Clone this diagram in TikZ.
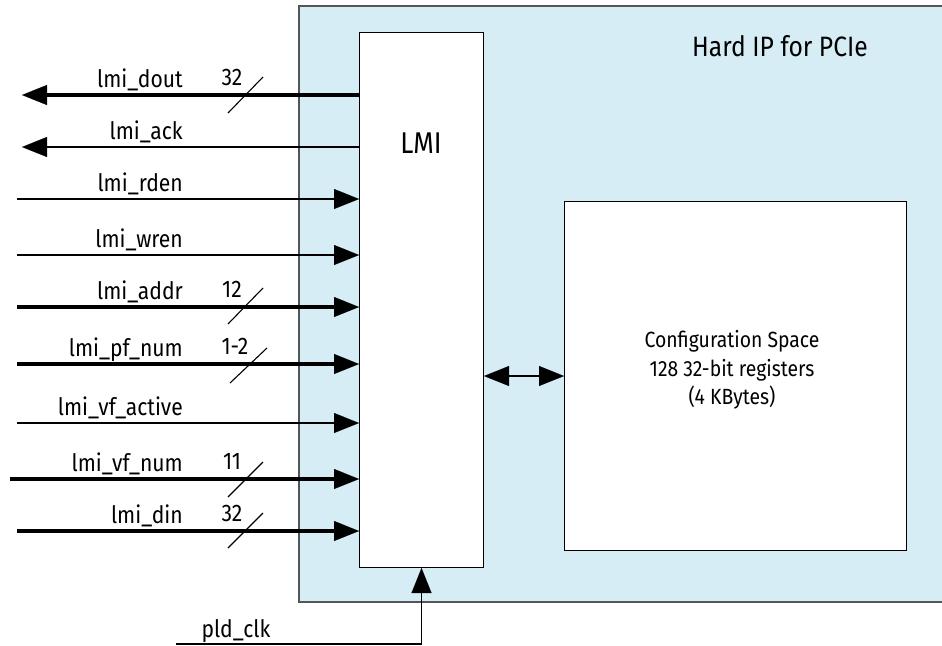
\documentclass[tikz,border=0pt]{standalone}
\usepackage{fontspec}
\setmainfont{Fira Sans}[FakeStretch=0.88]
\usetikzlibrary{positioning}
\usetikzlibrary{arrows.meta}
\definecolor{ipblue}{HTML}{D6EDF5}
\definecolor{ipline}{HTML}{555555}

\tikzset{
    tip/.tip={Triangle[length=25pt,width=20pt,line width=0.1pt]},
    sig/.style={line width=1.3pt, -tip},
    bus/.style={line width=4pt, -tip},
    dbl/.style={line width=1.3pt, tip-tip},
    slash/.style={line width=1.1pt},
    blk/.style={draw, line width=1pt, fill=white, inner sep=0pt},
    siglbl/.style={font=\fontsize{24}{28}\selectfont, inner sep=0pt},
    biglbl/.style={font=\fontsize{28}{34}\selectfont, inner sep=0pt},
}

\begin{document}
\begin{tikzpicture}[x=1pt, y=-1pt]
    \useasboundingbox (0,0) rectangle (942,645);

    % hard IP area
    \fill[ipblue] (299,6) rectangle (942,602);
    \draw[ipline, line width=1.2pt] (942,6) -| (299,602) -- (942,602);
    \node[biglbl] (hip) at (780,46) {Hard IP for PCIe};

    \node[blk, minimum width=124pt, minimum height=535pt, anchor=north west] (lmi) at (359,32) {};
    \node[biglbl, font=\fontsize{30}{36}\selectfont] (lmitxt) at (421,143) {LMI};

    \node[blk, minimum width=342pt, minimum height=349pt, anchor=north west] (cfg) at (564,201) {};
    \node[siglbl, align=center, font=\fontsize{22}{28.5}\selectfont] (cfgtxt) at (732,370)
        {Configuration Space\\ 128 32-bit registers\\ (4 KBytes)};

    \draw[dbl] (cfg.west -| lmi.east) -- (cfg.west);

    % signal ends
    \coordinate (dout) at (22,95);
    \coordinate (ack) at (22,147);
    \coordinate (rden) at (17,199);
    \coordinate (wren) at (17,255);
    \coordinate (addr) at (17,307);
    \coordinate (pfnum) at (17,364);
    \coordinate (vfact) at (17,423);
    \coordinate (vfnum) at (10,479);
    \coordinate (din) at (17,531);
    \coordinate (clk) at (176,644);

    \draw[bus] (lmi.west |- dout) -- (dout);
    \draw[sig] (lmi.west |- ack) -- (ack);
    \draw[sig] (rden) -- (lmi.west |- rden);
    \draw[sig] (wren) -- (lmi.west |- wren);
    \draw[bus] (addr) -- (lmi.west |- addr);
    \draw[bus] (pfnum) -- (lmi.west |- pfnum);
    \draw[sig] (vfact) -- (lmi.west |- vfact);
    \draw[bus] (vfnum) -- (lmi.west |- vfnum);
    \draw[bus] (din) -- (lmi.west |- din);
    \draw[sig] (clk) -| (lmi.south);

    % signal names
    \node[siglbl, anchor=base east] (ldout) at (183,87) {lmi\_dout};
    \node[siglbl, anchor=base east] (lack) at (183,139) {lmi\_ack};
    \node[siglbl, anchor=base east] (lrden) at (183,191) {lmi\_rden};
    \node[siglbl, anchor=base east] (lwren) at (183,247) {lmi\_wren};
    \node[siglbl, anchor=base east] (laddr) at (183,299) {lmi\_addr};
    \node[siglbl, anchor=base east] (lpfnum) at (183,356) {lmi\_pf\_num};
    \node[siglbl, anchor=base east] (lvfact) at (183,415) {lmi\_vf\_active};
    \node[siglbl, anchor=base east] (lvfnum) at (183,471) {lmi\_vf\_num};
    \node[siglbl, anchor=base east] (ldin) at (183,523) {lmi\_din};
    \node[siglbl, anchor=base] (lclk) at (236,637) {pld\_clk};

    % bus widths
    \node[siglbl, anchor=base] (wdout) at (232,85) {32};
    \node[siglbl, anchor=base] (waddr) at (232,297) {12};
    \node[siglbl, anchor=base] (wpfnum) at (235,354) {1-2};
    \node[siglbl, anchor=base] (wvfnum) at (232,469) {11};
    \node[siglbl, anchor=base] (wdin) at (232,521) {32};

    \draw[slash] (228,113) -- (263,77);
    \draw[slash] (228,324) -- (263,288);
    \draw[slash] (230,383) -- (267,348);
    \draw[slash] (228,497) -- (263,462);
    \draw[slash] (228,548) -- (263,513);
\end{tikzpicture}
\end{document}
